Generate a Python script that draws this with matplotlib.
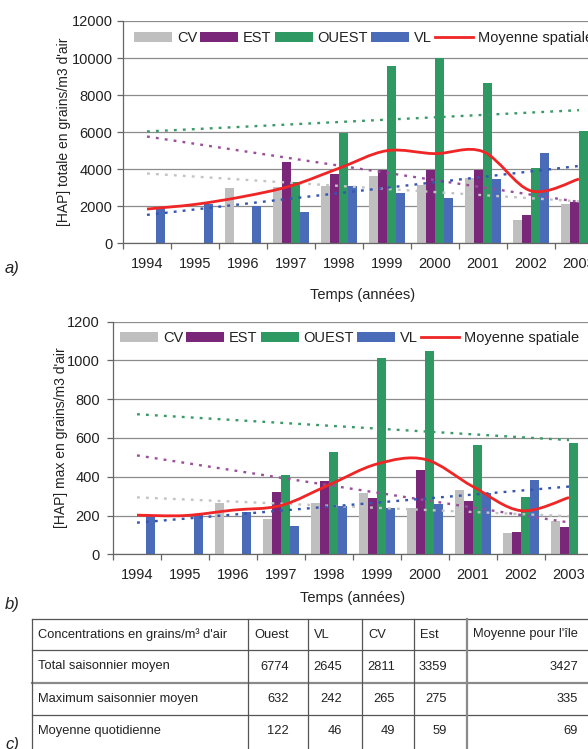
import numpy as np
import matplotlib
matplotlib.use("Agg")
import matplotlib.pyplot as plt
from matplotlib.path import Path
from matplotlib.patches import PathPatch, Patch
from matplotlib.lines import Line2D

plt.rcParams['font.family'] = ['Liberation Sans', 'DejaVu Sans']

# ---------- data ----------
years = ['1994', '1995', '1996', '1997', '1998', '1999', '2000', '2001', '2002', '2003']
series = ['CV', 'EST', 'OUEST', 'VL']
nan = np.nan

# a) total seasonal
tot_cv = [nan, nan, 2970, 3020, 3100, 3640, 3150, 3550, 1260, 2100]
tot_est = [nan, nan, nan, 4410, 3760, 3980, 3980, 3980, 1510, 2250]
tot_ouest = [nan, nan, nan, 3290, 5980, 9580, 9990, 8640, 4070, 6070]
tot_vl = [1950, 2100, 2030, 1710, 3100, 2700, 2430, 3490, 4860, nan]
tot_mean = [1850, 2100, 2520, 3100, 4050, 5000, 4840, 4950, 2830, 3470]

# b) seasonal maximum
max_cv = [nan, nan, 264, 184, 263, 316, 238, 331, 109, 170]
max_est = [nan, nan, nan, 319, 380, 289, 437, 275, 116, 141]
max_ouest = [nan, nan, nan, 409, 526, 1015, 1051, 566, 294, 575]
max_vl = [198, 205, 219, 147, 251, 237, 258, 315, 384, nan]
max_mean = [202, 200, 228, 252, 358, 466, 490, 349, 225, 293]

# c) table
tab_header = ["Concentrations en grains/m³ d'air", 'Ouest', 'VL', 'CV', 'Est', "Moyenne pour l'île"]
tab_rows = ['Total saisonnier moyen', 'Maximum saisonnier moyen', 'Moyenne quotidienne']
tab_ouest = [6774, 632, 122]
tab_vl = [2645, 242, 46]
tab_cv = [2811, 265, 49]
tab_est = [3359, 275, 59]
tab_ile = [3427, 335, 69]

colors = ['#BFBFBF', '#7B2779', '#2E9963', '#4A6BB8']
trend_colors = ['#C4C4C4', '#9A4E9A', '#3A9A68', '#3456B0']
red = '#F02525'
txt = '#222222'

W, H = 588, 749
fig = plt.figure(figsize=(W / 100, H / 100), dpi=100)


def smooth_path(xs, ys):
    pts = list(zip(xs, ys))
    verts = [pts[0]]
    codes = [Path.MOVETO]
    for i in range(len(pts) - 1):
        p0 = pts[i - 1] if i > 0 else pts[i]
        p1 = pts[i]
        p2 = pts[i + 1]
        p3 = pts[i + 2] if i + 2 < len(pts) else pts[i + 1]
        c1 = (p1[0] + (p2[0] - p0[0]) / 6, p1[1] + (p2[1] - p0[1]) / 6)
        c2 = (p2[0] - (p3[0] - p1[0]) / 6, p2[1] - (p3[1] - p1[1]) / 6)
        verts += [c1, c2, p2]
        codes += [Path.CURVE4] * 3
    return Path(verts, codes)


def draw_chart(ax, data, mean, ymax, ystep, ylabel, leg_xy, ylab_x, xlab_y, ypad):
    x = np.arange(len(years))
    width = 0.19
    offsets = [-0.285, -0.095, 0.095, 0.285]
    for vals, col, off in zip(data, colors, offsets):
        v = np.array(vals, dtype=float)
        m = ~np.isnan(v)
        ax.bar(x[m] + off, v[m], width, color=col, zorder=2)
    # linear trend lines
    for vals, col in zip(data, trend_colors):
        v = np.array(vals, dtype=float)
        m = ~np.isnan(v)
        k, b = np.polyfit(x[m], v[m], 1)
        xx = np.array([x[0], x[-1]])
        ax.plot(xx, k * xx + b, color=col, lw=1.7, linestyle=(0, (1.2, 2.6)), zorder=4)
    # smoothed spatial mean
    ax.add_patch(PathPatch(smooth_path(x, mean), fill=False, edgecolor=red, lw=2.0, zorder=5))

    ax.set_xlim(-0.5, len(years) - 0.5)
    ax.set_ylim(0, ymax)
    ax.set_yticks(np.arange(0, ymax + 1, ystep))
    ax.set_xticks(x)
    ax.set_xticklabels(years)
    ax.set_xticks(np.arange(-0.5, len(years)), minor=True)
    ax.tick_params(axis='x', which='major', length=0, pad=10, labelsize=10.5, labelcolor=txt)
    ax.tick_params(axis='x', which='minor', length=4, width=0.9, color='#666666', direction='out')
    ax.tick_params(axis='y', length=4, width=0.9, color='#666666', pad=ypad, labelsize=10.5, labelcolor=txt)
    ax.grid(axis='y', color='#8C8C8C', lw=0.9, zorder=0)
    ax.set_axisbelow(True)
    for s in ['top', 'right']:
        ax.spines[s].set_visible(False)
    for s in ['left', 'bottom']:
        ax.spines[s].set_color('#666666')
        ax.spines[s].set_linewidth(0.9)

    ax.set_ylabel(ylabel, fontsize=10, color=txt)
    ax.yaxis.set_label_coords(ylab_x, 0.5)
    ax.set_xlabel('Temps (années)', fontsize=10.5, color=txt)
    ax.xaxis.set_label_coords(0.5, xlab_y)

    handles = [Patch(facecolor=c, edgecolor='none') for c in colors]
    handles.append(Line2D([], [], color=red, lw=2.0))
    ax.legend(handles, series + ['Moyenne spatiale'], ncol=5, loc='center left',
              bbox_to_anchor=leg_xy, frameon=False, fontsize=10.5, borderpad=0,
              borderaxespad=0, handlelength=2.6, handleheight=0.7,
              handletextpad=0.35, columnspacing=0.2, labelcolor=txt)


# ---------- a) ----------
ax1 = fig.add_axes([123 / W, (H - 243.3) / H, 480 / W, 222.3 / H])
draw_chart(ax1, [tot_cv, tot_est, tot_ouest, tot_vl], tot_mean, 12000, 2000,
           "[HAP] totale en grains/m3 d'air", (0.023, 0.923), -0.108, -0.20, 3.5)

# ---------- b) ----------
ax2 = fig.add_axes([113 / W, (H - 554.3) / H, 480 / W, 232.6 / H])
draw_chart(ax2, [max_cv, max_est, max_ouest, max_vl], max_mean, 1200, 200,
           "[HAP] max en grains/m3 d'air", (0.0146, 0.930), -0.094, -0.158, 5.5)

fig.text(5 / W, 1 - 268 / H, 'a)', fontsize=12, style='italic', va='center', color=txt)
fig.text(5 / W, 1 - 605 / H, 'b)', fontsize=12, style='italic', va='center', color=txt)
fig.text(5 / W, 1 - 745 / H, 'c)', fontsize=12, style='italic', va='center', color=txt)

# ---------- c) table ----------
col_x = [32, 248, 308, 362, 414, 467, 600]
row_y = [619, 650, 683, 715, 760]
for i, y in enumerate(row_y[:-1]):
    lw = 1.6 if i == 2 else 0.9
    c = '#8A8A8A' if i == 2 else '#555555'
    fig.add_artist(Line2D([col_x[0] / W, col_x[-1] / W], [1 - y / H, 1 - y / H], color=c, lw=lw))
for j, xc in enumerate(col_x[:-1]):
    lw = 1.6 if j == 5 else 0.9
    c = '#8A8A8A' if j == 5 else '#555555'
    fig.add_artist(Line2D([xc / W, xc / W], [1 - row_y[0] / H, 1 - row_y[-1] / H], color=c, lw=lw))

cell_fs = 9.3
for j, h in enumerate(tab_header):
    fig.text((col_x[j] + 6) / W, 1 - (row_y[0] + row_y[1]) / 2 / H, h, fontsize=cell_fs,
             va='center', ha='left', color=txt)
num_right = [289, 342, 395, 447, 578]
cols = [tab_ouest, tab_vl, tab_cv, tab_est, tab_ile]
for i, r in enumerate(tab_rows):
    yc = 1 - (row_y[i + 1] + min(row_y[i + 2], 747)) / 2 / H
    fig.text((col_x[0] + 6) / W, yc, r, fontsize=cell_fs, va='center', ha='left', color=txt)
    for xr, col in zip(num_right, cols):
        fig.text(xr / W, yc, str(col[i]), fontsize=cell_fs, va='center', ha='right', color=txt)

fig.savefig('out.png', dpi=100)
